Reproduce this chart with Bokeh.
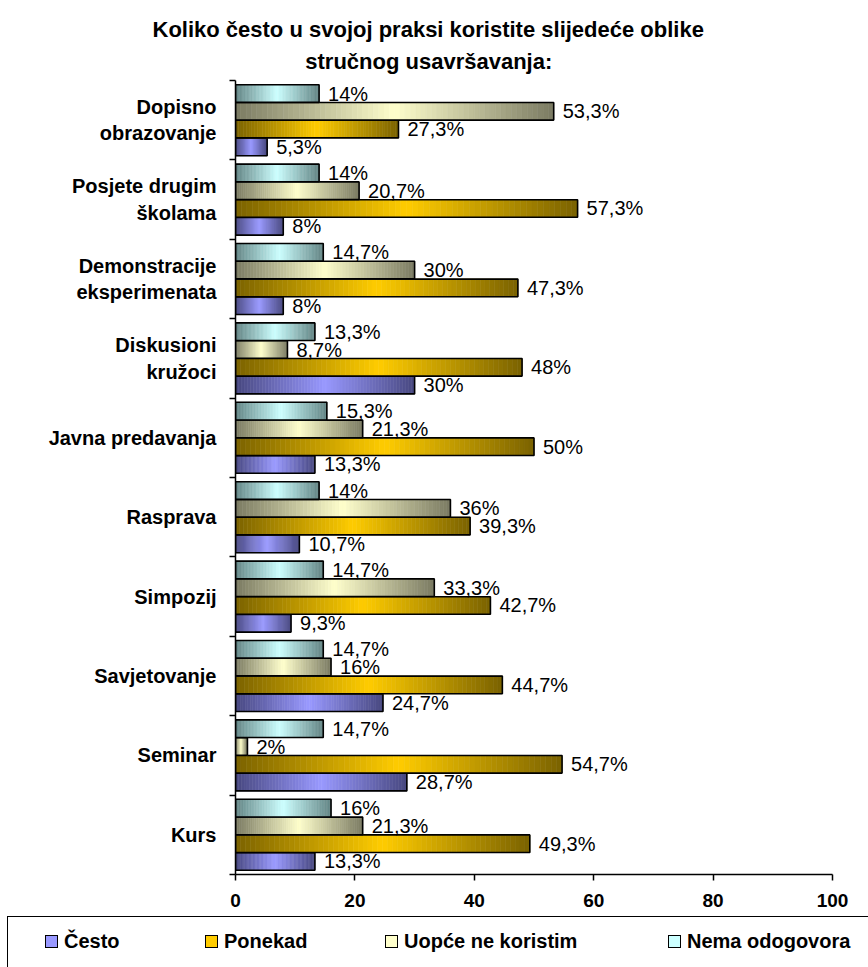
import numpy as np
from bokeh.plotting import figure
from bokeh.layouts import column
from bokeh.models import (ColumnDataSource, Range1d, LinearAxis, FixedTicker, Title, Div)
from bokeh.core.properties import value
from bokeh.embed import file_html
from bokeh.resources import INLINE

# ---------------- data ----------------
categories = ["Dopisno\nobrazovanje", "Posjete drugim\nškolama", "Demonstracije\neksperimenata",
              "Diskusioni\nkružoci", "Javna predavanja", "Rasprava", "Simpozij",
              "Savjetovanje", "Seminar", "Kurs"]
cesto = [5.3, 8, 8, 30, 13.3, 10.7, 9.3, 24.7, 28.7, 13.3]
ponekad = [27.3, 57.3, 47.3, 48, 50, 39.3, 42.7, 44.7, 54.7, 49.3]
uopce = [53.3, 20.7, 30, 8.7, 21.3, 36, 33.3, 16, 2, 21.3]
nema = [14, 14, 14.7, 13.3, 15.3, 14, 14.7, 14.7, 14.7, 16]
series_names = ["Često", "Ponekad", "Uopće ne koristim", "Nema odogovora"]
x_ticks = [0, 20, 40, 60, 80, 100]
title_lines = ["Koliko često u svojoj praksi koristite slijedeće oblike",
               "stručnog usavršavanja:"]

# ---------------- styles ----------------
center_cols = [(153, 153, 255), (255, 204, 0), (255, 255, 204), (204, 255, 255)]
end_cols = [(72, 72, 128), (122, 98, 0), (122, 122, 98), (98, 132, 132)]
offsets = [-0.336, -0.112, 0.112, 0.336]
bar_h = 0.222
FONT = "Liberation Sans"
N = 60
legend_x = [45, 205, 385, 668]   # legend item positions (px)

n = len(categories)
centers = [n - j - 0.5 for j in range(n)]   # category slot centres, top to bottom

p = figure(width=868, height=916, output_backend="svg", toolbar_location=None,
           x_range=Range1d(0, 100), y_range=Range1d(0, n),
           y_axis_location=None, x_axis_location="below", title=None,
           min_border_left=235, min_border_right=36, min_border_top=80, min_border_bottom=42)
p.outline_line_color = None
p.xgrid.visible = False
p.ygrid.visible = False
p.background_fill_color = "white"
p.border_fill_color = "white"

# title: second line centred under the first by a non-breaking-space indent
title_text = title_lines[0] + "\n" + "\u00a0" * 25 + title_lines[1]
tt = Title(text=title_text, align="left", offset=-83, text_font=FONT,
           text_font_size="22px", text_font_style="bold", text_color="black",
           text_line_height=1.3, standoff=13)
p.add_layout(tt, "above")


def mix(c1, c2, t):
    return "#%02x%02x%02x" % tuple(int(round(a + (b - a) * t)) for a, b in zip(c1, c2))


def fmt(v):
    s = ("%g" % v).replace(".", ",")
    return s + "%"


all_series = [cesto, ponekad, uopce, nema]
for si, vals in enumerate(all_series):
    ys = [c + offsets[si] for c in centers]
    # gradient strips
    yy, lefts, rights, cols = [], [], [], []
    for y, v in zip(ys, vals):
        for k in range(N):
            u = (k + 0.5) / N
            t = abs(2 * u - 1)
            yy.append(y)
            lefts.append(v * k / N)
            rights.append(v * (k + 1) / N)
            cols.append(mix(center_cols[si], end_cols[si], t))
    src = ColumnDataSource(dict(y=yy, left=lefts, right=rights, col=cols))
    p.hbar(y="y", left="left", right="right",
           height=bar_h, fill_color="col", line_color="col", line_width=0.6, source=src)
    # outline
    bsrc = ColumnDataSource(dict(y=ys, v=vals, lbl=[fmt(v) for v in vals]))
    p.hbar(y="y", left=0, right="v", height=bar_h,
           fill_color=None, line_color="black", line_width=1.6, source=bsrc)
    p.text(x="v", y="y", text="lbl", source=bsrc,
           x_offset=9, text_baseline="middle", text_align="left",
           text_font=value(FONT), text_font_size="20px", text_color="black")

# x axis
xa = p.xaxis[0]
xa.ticker = FixedTicker(ticks=x_ticks)
xa.major_label_text_font = FONT
xa.major_label_text_font_size = "19px"
xa.major_label_text_font_style = "bold"
xa.major_label_text_color = "black"
xa.axis_line_color = "black"
xa.major_tick_line_color = "black"
xa.major_tick_in = 0
xa.major_tick_out = 6
xa.minor_tick_line_color = None
xa.axis_line_width = 1.5
xa.major_tick_line_width = 1.5
xa.major_label_standoff = 13

# boundary ticks axis (inner)
bounds = list(range(n + 1))
ba = LinearAxis(ticker=FixedTicker(ticks=bounds))
ba.major_label_overrides = {b: "" for b in bounds}
ba.major_label_text_font_size = "1px"
ba.major_label_standoff = 0
ba.major_tick_in = 0
ba.major_tick_out = 6
ba.minor_tick_line_color = None
ba.axis_line_color = "black"
ba.major_tick_line_color = "black"
ba.axis_line_width = 1.5
ba.major_tick_line_width = 1.5
p.add_layout(ba, "left")

# category label axis (outer)
ca = LinearAxis(ticker=FixedTicker(ticks=centers))
ca.major_label_overrides = {c: lab for c, lab in zip(centers, categories)}
ca.axis_line_color = None
ca.major_tick_line_color = None
ca.minor_tick_line_color = None
ca.major_label_text_font = FONT
ca.major_label_text_font_size = "20px"
ca.major_label_text_font_style = "bold"
ca.major_label_text_color = "black"
ca.major_label_standoff = 7
p.add_layout(ca, "left")

# ---------------- legend strip (HTML) ----------------
parts = ['<div style="position:relative;width:868px;height:51px;overflow:hidden;'
         'background:white;font-family:\'Liberation Sans\',Arial,sans-serif;'
         'font-weight:bold;font-size:20px;color:black;">',
         '<div style="position:absolute;left:7px;top:0px;width:900px;height:90px;'
         'border:1.5px solid black;box-sizing:border-box;"></div>']
for name, cc, lx in zip(series_names, center_cols, legend_x):
    parts.append('<div style="position:absolute;left:%dpx;top:19px;width:13px;height:13px;'
                 'box-sizing:border-box;border:1.5px solid black;background:%s;"></div>'
                 % (lx, mix(cc, cc, 0)))
    parts.append('<div style="position:absolute;left:%dpx;top:14px;line-height:22px;'
                 'white-space:nowrap;">%s</div>' % (lx + 19, name))
parts.append('</div>')
legend_div = Div(text="".join(parts), width=868, height=51, margin=0)

layout = column(p, legend_div, spacing=0)
open("out.html", "w").write(file_html(layout, INLINE))
